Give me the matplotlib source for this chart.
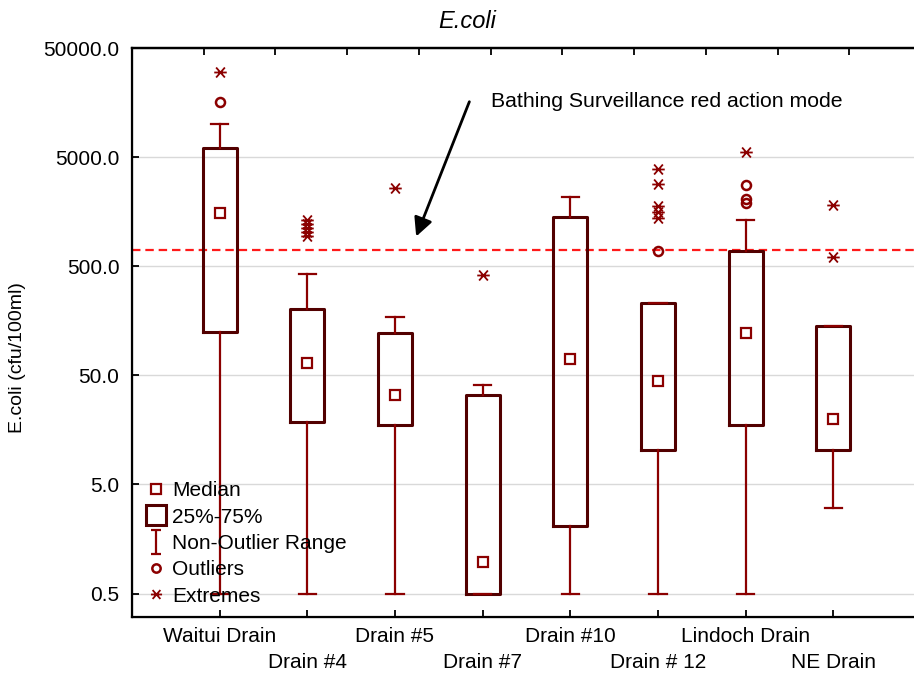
import numpy as np
import matplotlib
matplotlib.use('Agg')
import matplotlib.pyplot as plt
from matplotlib.path import Path
from matplotlib.lines import Line2D
from matplotlib.ticker import NullLocator, FixedLocator

plt.rcParams['font.family'] = ['Liberation Sans', 'DejaVu Sans']

# data (cfu/100ml)
drains = ['Waitui Drain', 'Drain #4', 'Drain #5', 'Drain #7',
          'Drain #10', 'Drain # 12', 'Lindoch Drain', 'NE Drain']
medians = [1530, 65, 33, 0.98, 70, 44, 122, 20]
q1 = [124, 18.6, 17.4, 0.5, 2.06, 10.3, 17.5, 10.3]
q3 = [6000, 202, 122, 32.8, 1400, 230, 694, 142]
whisk_lo = [0.5, 0.5, 0.5, 0.5, 0.5, 0.5, 0.5, 3.05]
whisk_hi = [10070, 425, 173, 40.7, 2133, 232, 1322, 142]
outliers = [[16000], [], [], [], [], [694], [2780, 2087, 1892], []]
extremes = [[30000], [1322, 1216, 1118, 1028, 945], [2590], [416], [],
            [3860, 2860, 1786, 1565, 1371], [5555], [1812, 604]]
red_action = 700

yticks = [0.5, 5, 50, 500, 5000, 50000]

box_col = '#520000'
wh_col = '#8b0000'

# asterisk marker used for extremes
star = Path([(-1, 0), (1, 0), (-0.7, -0.8), (0.7, 0.8), (-0.7, 0.8), (0.7, -0.8)],
            [Path.MOVETO, Path.LINETO, Path.MOVETO, Path.LINETO, Path.MOVETO, Path.LINETO])
ibeam = Path([(-0.45, 1), (0.45, 1), (0, 1), (0, -1), (-0.45, -1), (0.45, -1)],
             [Path.MOVETO, Path.LINETO, Path.MOVETO, Path.LINETO, Path.MOVETO, Path.LINETO])

fig = plt.figure(figsize=(9.14, 6.79), dpi=100)
ax = fig.add_axes([132/914, 62/679, 789/914, 569/679])
pos = np.arange(1, len(drains) + 1)

stats = []
for i in range(len(drains)):
    stats.append(dict(med=medians[i], q1=q1[i], q3=q3[i],
                      whislo=whisk_lo[i], whishi=whisk_hi[i], fliers=[]))
ax.bxp(stats, positions=pos, widths=0.39, capwidths=0.2, showfliers=False,
       boxprops=dict(color=box_col, linewidth=2.2),
       whiskerprops=dict(color=wh_col, linewidth=1.6),
       capprops=dict(color=wh_col, linewidth=1.6),
       medianprops=dict(linewidth=0), zorder=3)

ax.plot(pos, medians, ls='none', marker='s', ms=6.5, mfc='white', mec=wh_col, mew=1.6, zorder=4)
for p, vals in zip(pos, outliers):
    ax.plot([p] * len(vals), vals, ls='none', marker='o', ms=6.5, mfc='none', mec=wh_col, mew=1.8, zorder=4)
for p, vals in zip(pos, extremes):
    ax.plot([p] * len(vals), vals, ls='none', marker=star, ms=9, color=wh_col, mew=1.3, zorder=4)

ax.axhline(red_action, color='#ff1a1a', lw=1.6, dashes=(3.8, 2.2), zorder=2)

ax.annotate('', xy=(3.23, 887), xytext=(3.86, 17000),
            arrowprops=dict(arrowstyle='-|>', color='black', lw=2, mutation_scale=28))
ax.text(4.1, 16000, 'Bathing Surveillance red action mode', fontsize=15.3, va='center', ha='left')

ax.set_yscale('log')
ax.set_ylim(0.305, 50000)
ax.set_xlim(0, 9)
ax.yaxis.set_major_locator(FixedLocator(yticks))
ax.yaxis.set_minor_locator(NullLocator())
ax.set_yticklabels(['%.1f' % v for v in yticks])

# staggered category labels: odd ones on major ticks, even ones on minor ticks lower down
ax.set_xticks(pos[::2])
ax.set_xticklabels(drains[::2])
ax.set_xticks(pos[1::2], minor=True)
ax.set_xticklabels(drains[1::2], minor=True)
ax.grid(axis='y', color='#d9d9d9', lw=1, zorder=0)
ax.set_axisbelow(True)
ax.tick_params(axis='both', which='both', direction='in', length=5, width=1.3, labelsize=15)
ax.tick_params(axis='x', which='major', pad=7)
ax.tick_params(axis='x', which='minor', pad=26)
ax.tick_params(axis='y', pad=9)
for s in ax.spines.values():
    s.set_linewidth(1.6)

top = ax.twiny()
top.set_xlim(0, 11)
top.set_xticks(np.arange(1, 11))
top.tick_params(axis='x', direction='in', length=5, width=1.3, labeltop=False)
top.spines['top'].set_linewidth(1.6)

handles = [
    Line2D([], [], ls='none', marker='s', ms=6.5, mfc='white', mec=wh_col, mew=1.6),
    Line2D([], [], ls='none', marker='s', ms=15, mfc='white', mec=box_col, mew=2.2),
    Line2D([], [], ls='none', marker=ibeam, ms=17, color=wh_col, mew=1.6),
    Line2D([], [], ls='none', marker='o', ms=6, mfc='none', mec=wh_col, mew=1.8),
    Line2D([], [], ls='none', marker=star, ms=8, color=wh_col, mew=1.3),
]
ax.legend(handles, ['Median', '25%-75%', 'Non-Outlier Range', 'Outliers', 'Extremes'],
          loc='lower left', bbox_to_anchor=(0.017, 0.02), frameon=False, fontsize=15,
          handlelength=1.0, handletextpad=0.3, labelspacing=0.35, borderpad=0, borderaxespad=0)

fig.text(467/914, 1 - 21/679, 'E.coli', fontsize=17, style='italic', ha='center', va='center')
fig.text(18/914, 1 - 358/679, 'E.coli (cfu/100ml)', fontsize=14, rotation=90, ha='center', va='center')

fig.savefig('out.png', dpi=100)
